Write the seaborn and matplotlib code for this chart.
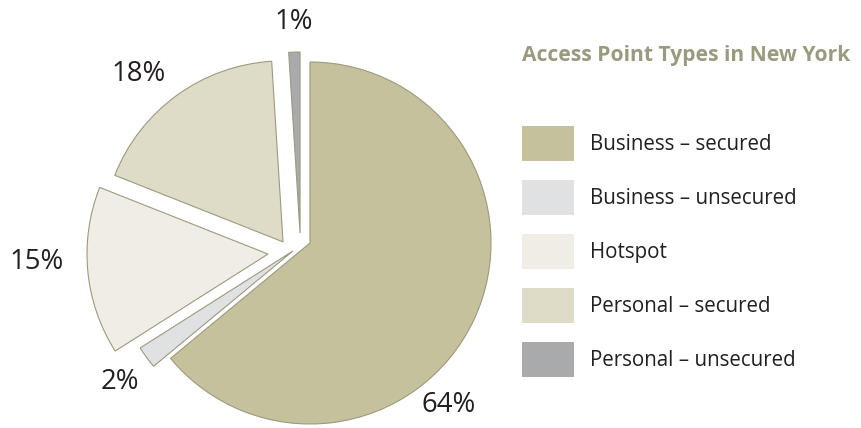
import matplotlib
matplotlib.use("Agg")
import matplotlib.pyplot as plt
import seaborn as sns
from matplotlib.patches import Patch

# ---- data ----
categories = ["Business – secured", "Business – unsecured", "Hotspot",
              "Personal – secured", "Personal – unsecured"]
shares = [64, 2, 15, 18, 1]
pct_labels = ["64%", "2%", "15%", "18%", "1%"]
colors = ["#c5c19c", "#e0e1e3", "#f0ede6", "#dedcc6", "#a9aaac"]
title = "Access Point Types in New York"

sns.set_theme(style="white")
plt.rcParams["font.family"] = ["Open Sans", "DejaVu Sans"]

# ---- layout ----
W, H = 861, 428
R = 181.0            # pie radius in px
cx, cy = 310, 243    # pie centre in px (from top-left)
# per-slice displacement (radius units) – the pulled-out slices
slice_shift = [(0.0, 0.0), (-0.094, -0.044), (-0.232, -0.061),
               (-0.149, 0.006), (-0.055, 0.055)]
# label anchor positions (radius units, relative to pie centre)
label_pos = [(0.765, -0.895), (-1.050, -0.768), (-1.508, -0.105),
             (-0.945, 0.934), (-0.091, 1.221)]

fig = plt.figure(figsize=(W / 100, H / 100), dpi=100)
ax = fig.add_axes([0, 0, 1, 1])

wedges, _ = ax.pie(shares, colors=colors, startangle=90, counterclock=False,
                   radius=1.0,
                   wedgeprops=dict(edgecolor="#9c9a7e", linewidth=0.8))
for w, (dx, dy) in zip(wedges, slice_shift):
    w.set_center((dx, dy))

for txt, (lx, ly) in zip(pct_labels, label_pos):
    ax.text(lx, ly, txt, ha="center", va="center", fontsize=19.8,
            color="#231f20")

ax.set_xlim(-cx / R, (W - cx) / R)
ax.set_ylim(-(H - cy) / R, cy / R)
ax.set_axis_off()

# ---- title & legend ----
fig.text(522 / W, 1 - 55 / H, title, ha="left", va="center",
         fontsize=15.1, fontweight="bold", color="#9a9a7e")

fs = 14.8
fs_px = fs * 100 / 72
box_w, box_h, pitch, gap = 52, 35, 54, 16   # px
hh = ((box_h / fs_px) - 0.245) / 0.65
handles = [Patch(facecolor=c, edgecolor="none") for c in colors]
fig.legend(handles, categories, loc="upper left",
           bbox_to_anchor=(522 / W, 1 - 126 / H), frameon=False,
           fontsize=fs, borderpad=0, borderaxespad=0,
           handlelength=box_w / fs_px, handleheight=hh,
           labelspacing=(pitch - box_h) / fs_px, handletextpad=gap / fs_px,
           labelcolor="#231f20")

fig.savefig("out.png", dpi=100)
